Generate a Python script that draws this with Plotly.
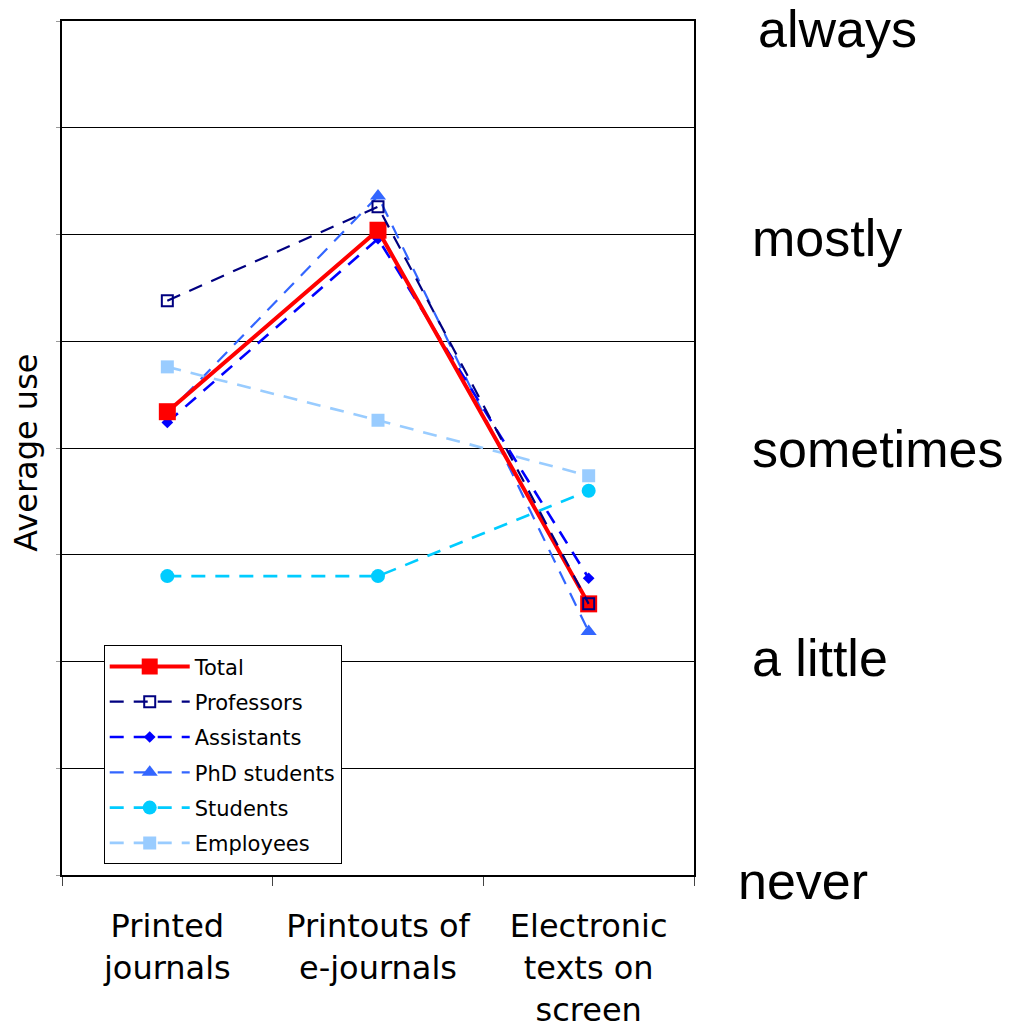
import plotly.graph_objects as go

categories = ["Printed<br>journals", "Printouts of<br>e-journals", "Electronic<br>texts on<br>screen"]
total = [3.17, 4.02, 2.27]
professors = [3.69, 4.13, 2.27]
assistants = [3.12, 3.98, 2.39]
phd_students = [3.16, 4.18, 2.14]
students = [2.40, 2.40, 2.80]
employees = [3.38, 3.13, 2.87]
scale_labels = ["never", "a little", "sometimes", "mostly", "always"]
scale_values = [1, 2, 3, 4, 5]

fig = go.Figure()

def add(name, y, color, width, dash, symbol, size, rank):
    fig.add_trace(go.Scatter(
        x=categories, y=y, name=name, mode="lines+markers",
        line=dict(color=color, width=width, dash=dash),
        marker=dict(symbol=symbol, size=size, color=color,
                    line=dict(color=color, width=2 if "open" in symbol else 0)),
        legendrank=rank, legendgroup=name,
    ))

DASH = "14px,10px"
add("PhD students", phd_students, "#3366FF", 2.2, DASH, "triangle-up", 14, 4)
add("Assistants", assistants, "#0000FF", 2.6, DASH, "diamond", 9, 3)
add("Students", students, "#00CCFF", 2.6, DASH, "circle", 14, 5)
add("Employees", employees, "#99CCFF", 2.6, DASH, "square", 13, 6)
add("Total", total, "#FF0000", 4, "solid", "square", 17, 1)
add("Professors", professors, "#000080", 2.2, DASH, "square-open", 11, 2)

fig.update_layout(
    width=1004, height=1018,
    margin=dict(l=54, r=318, t=13, b=151),
    paper_bgcolor="white", plot_bgcolor="white",
    font=dict(family="DejaVu Sans", color="black"),
    showlegend=True,
    legend=dict(
        x=0.066, y=0.269, xanchor="left", yanchor="top",
        bgcolor="white", bordercolor="black", borderwidth=1,
        font=dict(size=21, family="DejaVu Sans"),
        traceorder="grouped", tracegroupgap=5,
        itemwidth=80,
    ),
    xaxis=dict(
        type="category", tickson="boundaries", ticks="outside", ticklen=9,
        tickcolor="#444", tickfont=dict(size=32, family="DejaVu Sans"),
        ticklabelstandoff=22, automargin=False,
        showline=True, linecolor="black", linewidth=2, mirror=True,
        showgrid=False, range=[-0.5, 2.5],
    ),
    yaxis=dict(
        range=[1, 5], tickvals=[1, 1.5, 2, 2.5, 3, 3.5, 4, 4.5, 5],
        showticklabels=False, ticks="outside", ticklen=4, tickcolor="#999",
        showgrid=True, gridcolor="black", gridwidth=1, automargin=False,
        showline=True, linecolor="black", linewidth=2, mirror=True,
        zeroline=False,
    ),
)

fig.add_annotation(
    text="Average use", xref="paper", yref="paper", x=-0.056, y=0.494,
    textangle=-90, showarrow=False, font=dict(size=32, family="DejaVu Sans"),
    xanchor="center", yanchor="middle",
)

xpos = [1.066, 1.088, 1.088, 1.088, 1.098]
yshift = [-6, 4, -1, -3, -8]
for lab, v, xp, ys in zip(scale_labels, scale_values, xpos, yshift):
    fig.add_annotation(
        text=lab, xref="paper", yref="y", x=xp, y=v, xanchor="left", yanchor="middle",
        yshift=ys, showarrow=False, font=dict(size=52, family="Liberation Sans", color="black"),
    )

fig.write_html("out.html")
